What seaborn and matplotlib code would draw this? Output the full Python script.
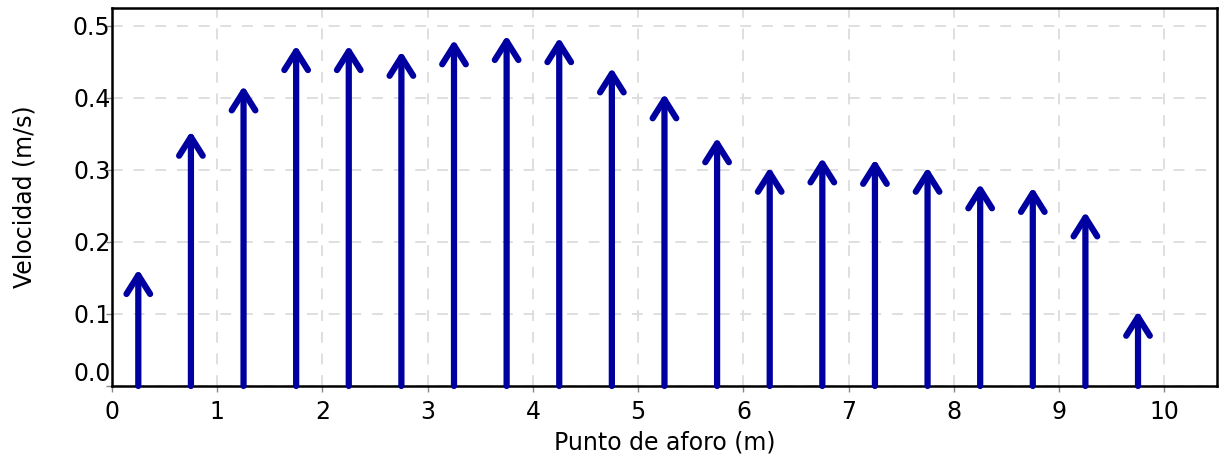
import matplotlib
matplotlib.use("Agg")
import matplotlib.pyplot as plt
import seaborn as sns

# Gauging points along the section (m) and measured velocity (m/s)
puntos = [0.25, 0.75, 1.25, 1.75, 2.25, 2.75, 3.25, 3.75, 4.25, 4.75,
          5.25, 5.75, 6.25, 6.75, 7.25, 7.75, 8.25, 8.75, 9.25, 9.75]
velocidad = [0.162, 0.354, 0.417, 0.473, 0.473, 0.465, 0.481, 0.487, 0.484, 0.442,
             0.406, 0.345, 0.304, 0.317, 0.315, 0.304, 0.281, 0.276, 0.242, 0.104]

x_ticks = list(range(0, 11))
y_ticks = [0.0, 0.1, 0.2, 0.3, 0.4, 0.5]
y_tick_labels = ["0.0", "0.1", "0.2", "0.3", "0.4", "0.5"]

sns.set_style("white")
plt.rcParams["font.family"] = ["DejaVu Sans"]
plt.rcParams["text.color"] = "black"
plt.rcParams["axes.labelcolor"] = "black"
plt.rcParams["xtick.labelcolor"] = "black"
plt.rcParams["ytick.labelcolor"] = "black"

fig = plt.figure(figsize=(12.2, 4.62), dpi=100)
ax = fig.add_axes([0.0918, 0.1645, 0.9057, 0.8182])

color = "#0000a0"
for x, v in zip(puntos, velocidad):
    ax.annotate(
        "", xy=(x, v), xytext=(x, 0.0), xycoords="data", textcoords="data",
        arrowprops=dict(arrowstyle="->,head_length=1.35,head_width=0.85",
                        mutation_scale=10,
                        color=color, lw=4.5, shrinkA=0, shrinkB=0,
                        capstyle="round", joinstyle="round"),
        annotation_clip=False,
    )

ax.set_xlim(0, 10.5)
ax.set_ylim(0, 0.525)
ax.set_xticks(x_ticks)
ax.set_yticks(y_ticks)
ax.set_yticklabels(y_tick_labels)

ax.grid(True, color="#dcdcdc", linestyle=(0, (6, 6)), linewidth=1.3)
ax.set_axisbelow(True)

for s in ax.spines.values():
    s.set_color("black")
    s.set_linewidth(1.8)

ax.tick_params(axis="both", which="major", labelsize=17, length=4, width=1,
               color="#888888", direction="out", left=True, bottom=True)
ax.tick_params(axis="x", pad=6)
ax.tick_params(axis="y", pad=-3)
for lbl in ax.get_yticklabels():
    if lbl.get_text() == "0.0":
        lbl.set_va("bottom")

ax.set_xlabel("Punto de aforo (m)", fontsize=17, labelpad=5)
ax.set_ylabel("Velocidad (m/s)", fontsize=17, labelpad=26)

fig.savefig("out.png", dpi=100)
